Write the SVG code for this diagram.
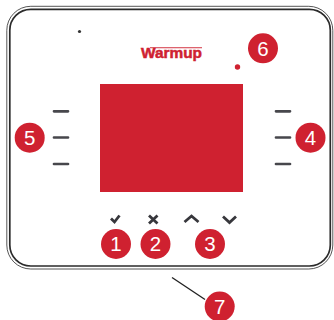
<svg xmlns="http://www.w3.org/2000/svg" width="334" height="320" viewBox="0 0 334 320">
<style>
.b{fill:none;stroke:#2b2b2b}
.d{stroke:#47474c;stroke-width:2.700;stroke-linecap:round;fill:none}
.i{stroke:#37373c;stroke-width:2.800;fill:none}
.c{fill:#cf2130}
.n{fill:#fff;font-family:"Liberation Sans",Arial,sans-serif;font-size:20.500px;text-anchor:middle}
</style>
<rect width="334" height="320" fill="#fff"/>
<g id="device">
<rect class="b" x="6.800" y="6.300" width="326" height="262.700" rx="24" ry="24" stroke-width="0.800"/>
<rect class="b" x="9.800" y="9.300" width="320.500" height="256.700" rx="21" ry="21" stroke-width="1.700"/>
<rect x="100" y="84" width="143" height="108" fill="#cf2130"/>
<circle cx="237.500" cy="67" r="2.700" fill="#cf2130"/>
<circle cx="79.500" cy="31.500" r="1.600" fill="#333"/>
<text x="141" y="57.700" font-family="'Liberation Sans',Arial,sans-serif" font-weight="700" font-size="15" fill="#cf2130" stroke="#cf2130" stroke-width="0.500" textLength="61" lengthAdjust="spacingAndGlyphs">Warmup</text>
<rect x="150" y="47" width="52" height="1.300" fill="#cf2130" opacity="0.7"/>
<path class="d" d="M54 111.300H68M54 137.500H68M54 164H68M276 111.300H290M276 137.500H290M276 164H290"/>
<path class="i" d="M111 218.500L114.500 222L119.500 215.500"/>
<path class="i" d="M149 215.500L157.500 223.500M157.500 215.500L149 223.500"/>
<path class="i" d="M184.500 222L191.500 216L198.500 222"/>
<path class="i" d="M223 216.500L229.500 222.500L236 216.500"/>
</g>
<g id="connectors">
<path d="M172 277.500L205 299.500" stroke="#222" stroke-width="1.300" fill="none"/>
</g>
<g id="n1"><circle class="c" cx="116" cy="244" r="15"/><text class="n" x="116" y="251">1</text></g>
<g id="n2"><circle class="c" cx="155.500" cy="244" r="15"/><text class="n" x="155.500" y="251">2</text></g>
<g id="n3"><circle class="c" cx="210" cy="244" r="15"/><text class="n" x="210" y="251">3</text></g>
<g id="n4"><circle class="c" cx="310.500" cy="137.700" r="15"/><text class="n" x="310.500" y="145">4</text></g>
<g id="n5"><circle class="c" cx="29.700" cy="137.700" r="15"/><text class="n" x="29.700" y="145">5</text></g>
<g id="n6"><circle class="c" cx="263" cy="48.300" r="15"/><text class="n" x="263" y="55.500">6</text></g>
<g id="n7"><circle class="c" cx="219.700" cy="306.500" r="15"/><text class="n" x="219.700" y="314">7</text></g>
</svg>
